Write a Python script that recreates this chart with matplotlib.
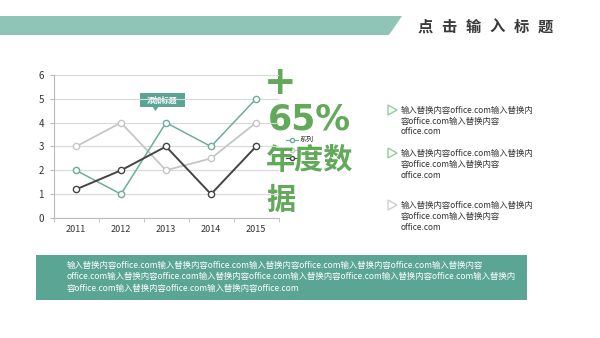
import numpy as np
import matplotlib
matplotlib.use("Agg")
import matplotlib.pyplot as plt
from matplotlib.patches import Polygon, Rectangle

plt.rcParams['font.family'] = ['Noto Sans CJK SC', 'DejaVu Sans']

# data
years = ["2011", "2012", "2013", "2014", "2015"]
series_gray = [3, 4, 2, 2.5, 4]
series_teal = [2, 1, 4, 3, 5]
series_dark = [1.2, 2, 3, 1, 3]
yticks = [0, 1, 2, 3, 4, 5, 6]

title = "点击输入标题"
callout = "添加标题"
big_lines = ["+", "65%", "年度数", "据"]
bullet_text = ["输入替换内容office.com输入替换内", "容office.com输入替换内容", "office.com"]
bottom_text = [
    "输入替换内容office.com输入替换内容office.com输入替换内容office.com输入替换内容office.com输入替换内容",
    "office.com输入替换内容office.com输入替换内容office.com输入替换内容office.com输入替换内容office.com输入替换内",
    "容office.com输入替换内容office.com输入替换内容office.com",
]

TEAL = "#5aa594"
BAND = "#8fc5b6"
GREEN = "#62a95a"

fig = plt.figure(figsize=(6, 3.38), dpi=100)

# overlay in pixel coordinates
bg = fig.add_axes([0, 0, 1, 1])
bg.set_xlim(0, 600)
bg.set_ylim(338, 0)
bg.axis("off")

bg.add_patch(Polygon([[0, 16], [402, 16], [389, 35], [0, 35]], closed=True,
                     facecolor=BAND, edgecolor="none"))
for i, ch in enumerate(title):
    bg.text(425 + i * 24, 27, ch, fontsize=11, fontweight="bold", color="#3a3a3a",
            ha="center", va="center")

# bottom box
bg.add_patch(Rectangle((36, 255), 491, 45, facecolor=TEAL, edgecolor="none"))
for i, line in enumerate(bottom_text):
    bg.text(67, 265 + i * 11.5, line, fontsize=6.05, color="white", va="center")

# bullets
for j, y0 in enumerate([110, 153, 205]):
    col = "#8fcf9c" if j < 2 else "#cfcfcf"
    bg.add_patch(Polygon([[388, y0 - 5], [397, y0], [388, y0 + 5]], closed=True,
                         facecolor="white", edgecolor=col, lw=1))
    for i, line in enumerate(bullet_text):
        bg.text(401, y0 + i * 11, line, fontsize=6.0, color="#333333", va="center")

# chart
ax = fig.add_axes([53.5 / 600, 1 - 218 / 338, 225 / 600, 143 / 338])
x = np.arange(len(years))
ax.plot(x, series_gray, color="#c6c6c6", lw=1.3, marker="o", ms=4.5,
        mfc="white", mec="#c6c6c6", zorder=3)
ax.plot(x, series_teal, color="#6aae98", lw=1.1, marker="o", ms=4.5,
        mfc="white", mec="#6aae98", zorder=4)
ax.plot(x, series_dark, color="#444444", lw=1.4, marker="o", ms=4.5,
        mfc="white", mec="#444444", zorder=5)
ax.set_xlim(-0.5, 4.5)
ax.set_ylim(0, 6)
ax.set_yticks(yticks)
ax.set_xticks(x)
ax.set_xticklabels(years)
ax.set_xticks(np.arange(-0.5, 5, 1), minor=True)
ax.tick_params(axis="x", which="major", length=0, labelsize=6.5, colors="#333333", pad=5)
ax.tick_params(axis="x", which="minor", length=3, color="#bbbbbb")
ax.tick_params(axis="y", length=3, color="#bbbbbb", labelsize=7, colors="#333333", pad=4)
ax.grid(axis="y", color="#d9d9d9", lw=0.8)
for s in ["top", "right"]:
    ax.spines[s].set_visible(False)
for s in ["left", "bottom"]:
    ax.spines[s].set_color("#bbbbbb")
ax.set_facecolor("none")

# callout
bg.add_patch(Rectangle((140, 93), 45, 14, facecolor=TEAL, edgecolor="none", zorder=6))
bg.add_patch(Polygon([[152, 106], [159, 106], [155.5, 111]], closed=True,
                     facecolor=TEAL, edgecolor="none", zorder=6))
bg.text(162.5, 100, callout, fontsize=5.5, color="white", fontweight="bold",
        ha="center", va="center", zorder=7)

# partial legend behind the big text
for k, (yy, c) in enumerate(zip([140, 150, 158], ["#6aae98", "#c6c6c6", "#444444"])):
    bg.plot([286, 298], [yy, yy], color=c, lw=0.8, zorder=2)
    bg.plot([292], [yy], marker="o", ms=3, mfc="white", mec=c, zorder=2)
bg.text(300, 140, "系列", fontsize=5, color="#222222", va="center", zorder=2)

# big green text
bg.text(280, 83, big_lines[0], fontsize=28, fontweight="bold", color=GREEN,
        family="DejaVu Sans", ha="center", va="center", zorder=8)
bg.text(268, 120, big_lines[1], fontsize=25, fontweight="bold", color=GREEN,
        family="DejaVu Sans", ha="left", va="center", zorder=8)
bg.text(266, 160, big_lines[2], fontsize=21, fontweight="heavy", color=GREEN,
        ha="left", va="center", zorder=8)
bg.text(266, 200, big_lines[3], fontsize=21, fontweight="heavy", color=GREEN,
        ha="left", va="center", zorder=8)

fig.savefig("out.png", dpi=100)
